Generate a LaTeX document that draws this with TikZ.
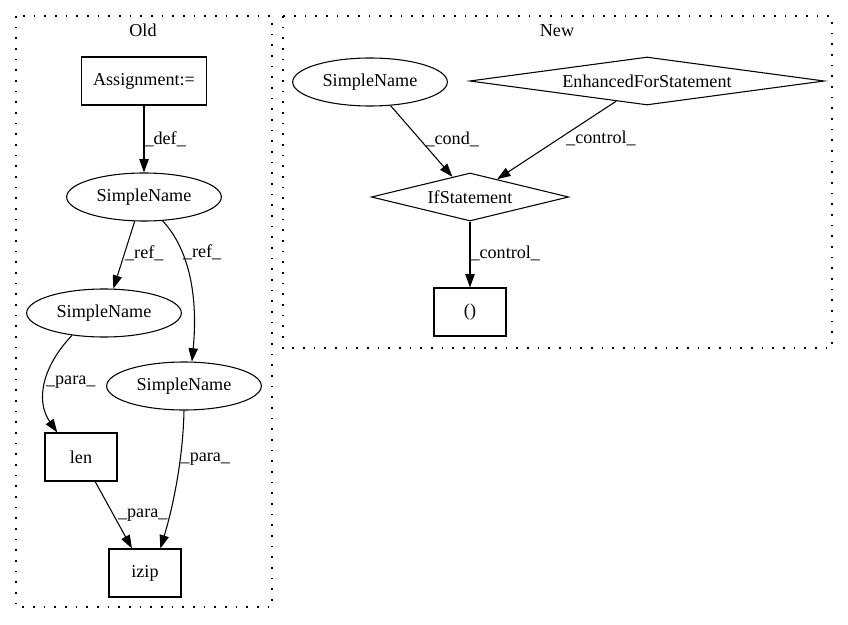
\documentclass[tikz,border=0pt]{standalone}
\usepackage{fontspec}
\setmainfont{Liberation Serif}
\usepackage{tikz}
\usetikzlibrary{positioning, arrows.meta, shapes}
\tikzset{
    blk/.style={draw, rectangle, line width=0.8pt, inner xsep=9pt, minimum width=54pt, minimum height=36pt},
    snm/.style={draw, ellipse, line width=0.8pt, inner sep=0pt, minimum width=116pt, minimum height=36pt},
    cnd/.style={draw, diamond, line width=0.8pt, inner sep=0pt, shape aspect=6, minimum height=36pt},
    conn/.style={-{Triangle[length=10pt, width=7pt]}, line width=0.8pt},
    lbl/.style={anchor=west, inner sep=0pt},
    clus/.style={line width=0.8pt, dash pattern=on 1.2pt off 6.8pt},
}
\begin{document}
\begin{tikzpicture}[x=0.75pt, y=-0.75pt,
        every node/.style={font=\fontsize{13.6pt}{16pt}\selectfont},
        ]
        \useasboundingbox (0,0) rectangle (848,624);

        % clusters
        \draw[clus] (16,16) rectangle (272,607);
        \node (old) at (143,30) {Old};
        \draw[clus] (283,16) rectangle (832,348);
        \node (new) at (557,31) {New};

        % old
        \node[blk] (asg) at (144,81) {Assignment:=};
        \node[snm] (sn1) at (144,197) {SimpleName};
        \node[snm] (sn2) at (104,313) {SimpleName};
        \node[snm] (sn3) at (184,386) {SimpleName};
        \node[blk] (len) at (81,457) {len};
        \node[blk] (izip) at (145,573) {izip};

        % new
        \node[snm] (snn) at (370,82) {SimpleName};
        \node[cnd, minimum width=266pt] (efs) at (647,81) {EnhancedForStatement};
        \node[cnd, minimum width=148pt] (ifs) at (470,197) {IfStatement};
        \node[blk] (par) at (470,312) {()};

        \draw[conn] (asg) -- node[lbl, pos=0.51] (l1) {\_def\_} (sn1);
        \draw[conn] (sn1.-111) -- node[lbl, pos=0.47] (l2) {\_ref\_} (sn2.69);
        \draw[conn] (sn1.-52) .. controls +(28,30) and +(6,-62) .. node[lbl, pos=0.3] (l3) {\_ref\_} (sn3.72);
        \draw[conn] (sn2.-145) .. controls +(-28,29) and +(-23,-33) .. node[lbl, pos=0.5] (l4) {\_para\_} (len.134);
        \draw[conn] (sn3.south) .. controls +(-1,50) and +(12,-39) .. node[lbl, pos=0.33] (l5) {\_para\_} (izip.58);
        \draw[conn] (len.-60) -- node[lbl, pos=0.5, xshift=3pt] (l6) {\_para\_} (izip.118);

        \draw[conn] (snn) -- node[lbl, pos=0.47, xshift=4pt] (l7) {\_cond\_} (ifs);
        \draw[conn] (efs) -- node[lbl, pos=0.48, xshift=5pt] (l8) {\_control\_} (ifs);
        \draw[conn] (ifs) -- node[lbl, pos=0.48] (l9) {\_control\_} (par);
\end{tikzpicture}
\end{document}
